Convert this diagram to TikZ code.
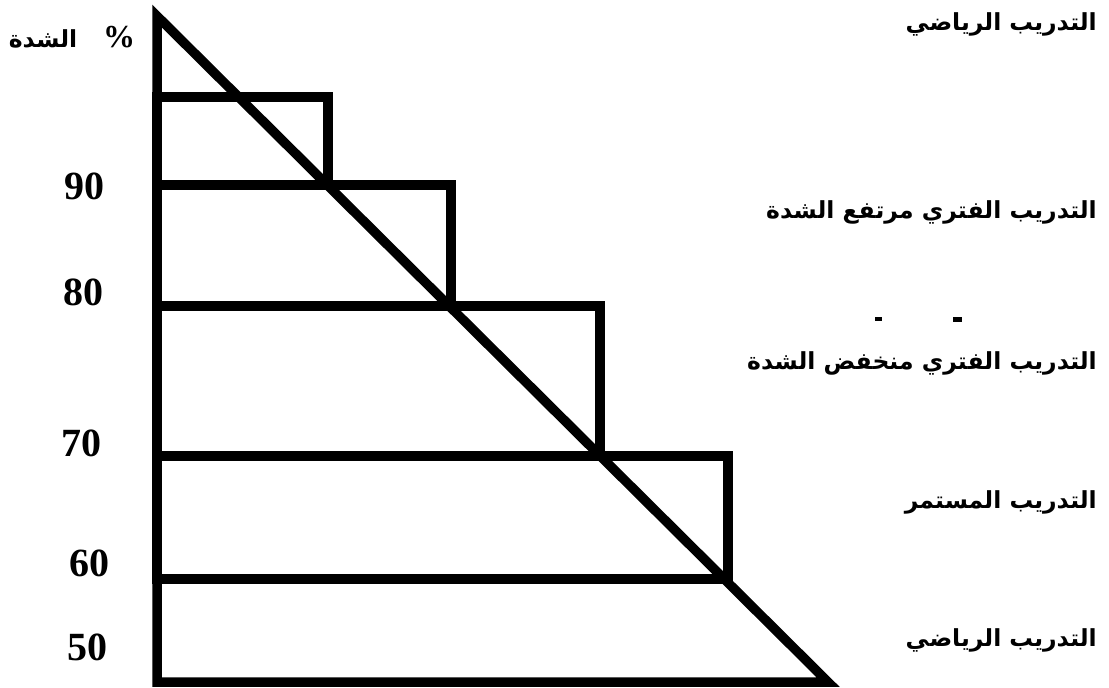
\documentclass[tikz,border=0pt]{standalone}
\usepackage{fontspec}
\setmainfont{Liberation Serif}
\newfontfamily\arabicfont[Script=Arabic]{DejaVu Sans}
\TeXXeTstate=1
\usetikzlibrary{positioning}

\begin{document}
\begin{tikzpicture}[
    x=1pt, y=-1pt,
    bar/.style={line width=9.5pt, line join=miter},
    pct/.style={font=\fontsize{40}{40}\selectfont\bfseries, inner sep=0pt},
    lvl/.style={font=\arabicfont\fontsize{23.5}{28}\selectfont\bfseries, inner sep=0pt, anchor=east},
]
\useasboundingbox (0,0) rectangle (1109,688);
% triangle
\coordinate (apex) at (157,16);
\coordinate (base) at (157,682);
\coordinate (tip) at (828,682);
\draw[bar] (apex) -- (base) -- (tip) -- cycle;
% steps under the slope
\foreach \top/\bot/\right in {97/185/328, 185/306/451, 306/456/600, 456/579/728}
  \draw[bar] (157,\bot) -- (157,\top) -- (\right,\top) -- (\right,\bot) -- cycle;
% intensity scale
\node[lvl, anchor=center] (unit) at (72,37) {\beginR{\rmfamily\fontsize{32}{32}\selectfont\%}\hspace{26pt}الشدة\endR};
\node[pct] (p90) at (84,186) {90};
\node[pct] (p80) at (83,292) {80};
\node[pct] (p70) at (81,443) {70};
\node[pct] (p60) at (89,563) {60};
\node[pct] (p50) at (87,647) {50};
% kinds of training
\node[lvl] (sport) at (1097,24) {\beginR التدريب الرياضي\endR};
\node[lvl] (high) at (1097,212) {\beginR التدريب الفتري مرتفع الشدة\endR};
\node[lvl] (low) at (1097,363) {\beginR التدريب الفتري منخفض الشدة\endR};
\node[lvl] (cont) at (1097,502) {\beginR التدريب المستمر\endR};
\node[lvl] (base) at (1097,640) {\beginR التدريب الرياضي\endR};
% stray marks
\fill (875,317) rectangle (882,321);
\fill (953,317) rectangle (962,322);
\end{tikzpicture}
\end{document}
